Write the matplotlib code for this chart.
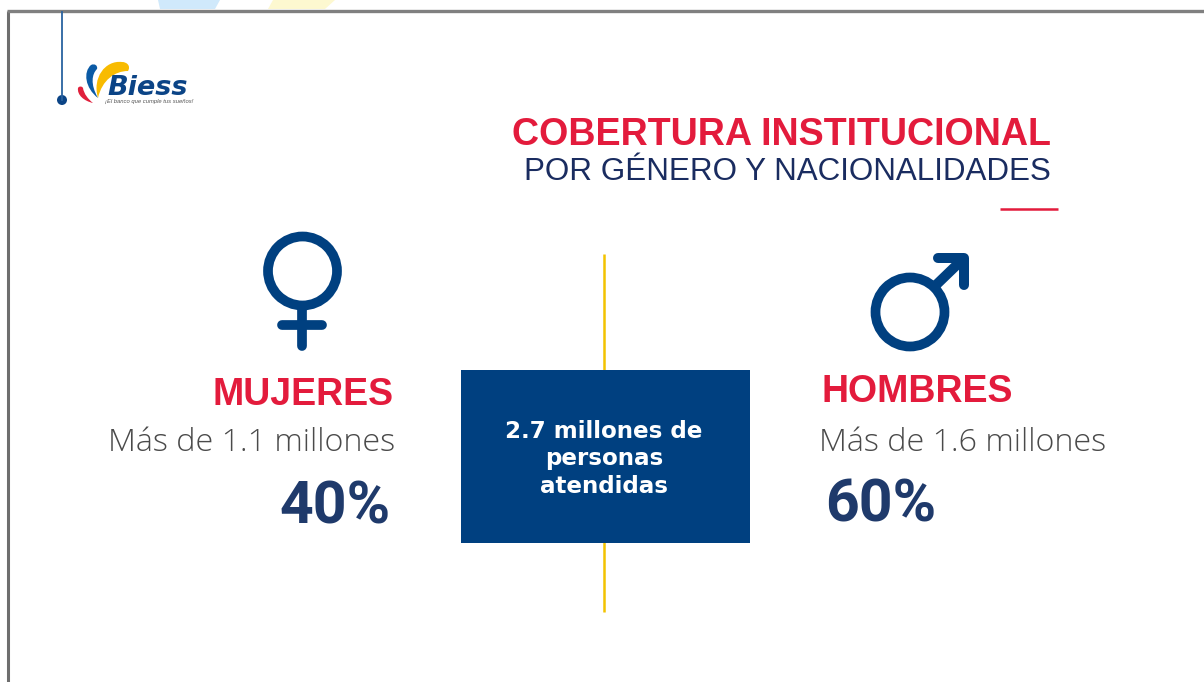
"""
    Cobertura institucional por genero - infographic slide
"""

import matplotlib

matplotlib.use("Agg")
import matplotlib.pyplot as plt
from matplotlib.patches import Circle, Rectangle, PathPatch
from matplotlib.path import Path

title_main = "COBERTURA INSTITUCIONAL"
title_sub = "POR GÉNERO Y NACIONALIDADES"
group_names = ["MUJERES", "HOMBRES"]
group_totals = ["Más de 1.1 millones", "Más de 1.6 millones"]
group_shares = ["40%", "60%"]
center_lines = ["2.7 millones de", "personas", "atendidas"]

RED = "#e31b3c"
NAVY = "#1f3a6b"
TITLE_NAVY = "#1a2c60"
BLUE = "#004080"
GOLD = "#f3c300"
GREY = "#4a4a4a"

swoosh_codes = [1, 4, 4, 4, 4, 4, 4, 4, 4, 4]

fig = plt.figure(figsize=(12.04, 6.82), dpi=100)
ax = fig.add_axes([0, 0, 1, 1])
ax.set_xlim(0, 1204)
ax.set_ylim(682, 0)
ax.axis("off")

# screenshot frame and pale shapes above it
ax.add_patch(plt.Polygon([[158, 0], [220, 0], [215, 9], [160, 9]], fc="#d0e9fb", ec="none"))
ax.add_patch(plt.Polygon([[273, 0], [335, 0], [325, 9], [268, 9]], fc="#fdf8d0", ec="none"))
ax.plot([8, 8], [11, 682], color="#6e6e6e", lw=2.2, solid_capstyle="butt")
ax.plot([7, 1204], [10.5, 10.5], color="#808080", lw=2.4, solid_capstyle="butt")

# logo line and dot
ax.plot([62, 62], [12, 100], color="#2a63a0", lw=1.3)
ax.add_patch(Circle((62, 100), 5, fc="#0b4486", ec="none"))

# logo swooshes
ax.add_patch(PathPatch(Path(
    [(98, 98), (92, 78), (105, 60), (122, 62), (127, 62), (131, 66), (128, 71), (115, 71), (102, 80), (98, 98)],
    swoosh_codes), fc="#f8bb00", ec="none"))
ax.add_patch(PathPatch(Path(
    [(98, 98), (85, 88), (83, 72), (91, 65), (95, 63), (98, 66), (97, 69), (92, 74), (90, 84), (98, 98)],
    swoosh_codes), fc="#0a5aa5", ec="none"))
ax.add_patch(PathPatch(Path(
    [(93, 103), (84, 101), (77, 95), (78, 88), (79, 86), (82, 86), (83, 88), (84, 94), (88, 99), (93, 103)],
    swoosh_codes), fc="#e0203c", ec="none"))
ax.text(107, 95, "Biess", color="#0b4486", fontsize=19.5, fontweight="bold", style="italic",
        family="DejaVu Sans", ha="left", va="baseline")
ax.text(105, 103, "¡El banco que cumple tus sueños!", color="#555555", fontsize=4.2, style="italic",
        family="Liberation Sans", ha="left", va="baseline")

# titles
ax.text(1051, 145, title_main, color=RED, fontsize=27.1, fontweight="bold",
        family="Liberation Sans", ha="right", va="baseline")
ax.text(1051, 180, title_sub, color=TITLE_NAVY, fontsize=22.6,
        family="Liberation Sans", ha="right", va="baseline")
ax.plot([1000, 1058], [209, 209], color=RED, lw=1.8, solid_capstyle="butt")

# centre line and box
ax.plot([604, 604], [254, 612], color=GOLD, lw=1.8, solid_capstyle="butt", zorder=1)
ax.add_patch(Rectangle((461, 370), 289, 173, fc=BLUE, ec="none", zorder=2))
for line, y in zip(center_lines, [438, 465, 493]):
    ax.text(604, y, line, color="white", fontsize=16.6, fontweight="bold",
            family="DejaVu Sans", ha="center", va="baseline", zorder=3)

# female symbol
ax.add_patch(Circle((302.5, 271), 34.5, fc="none", ec=BLUE, lw=7))
ax.plot([302, 302], [308, 346], color=BLUE, lw=7, solid_capstyle="round")
ax.plot([282, 322], [325, 325], color=BLUE, lw=7, solid_capstyle="round")

# male symbol
ax.add_patch(Circle((910, 312), 34.5, fc="none", ec=BLUE, lw=7))
ax.plot([936, 964], [285, 258], color=BLUE, lw=7.2, solid_capstyle="butt")
ax.plot([938, 964, 964], [258, 258, 285], color=BLUE, lw=7.2,
        solid_capstyle="round", solid_joinstyle="round")

# left and right blocks
ax.text(394, 405, group_names[0], color=RED, fontsize=27, fontweight="bold",
        family="Liberation Sans", ha="right", va="baseline")
ax.text(395, 451, group_totals[0], color=GREY, fontsize=23.2, fontweight="light",
        family="Open Sans", ha="right", va="baseline")
ax.text(391, 523, group_shares[0], color=NAVY, fontsize=42.5, fontweight="bold",
        family="Roboto", ha="right", va="baseline")

ax.text(821, 402, group_names[1], color=RED, fontsize=27, fontweight="bold",
        family="Liberation Sans", ha="left", va="baseline")
ax.text(819, 451, group_totals[1], color=GREY, fontsize=23.2, fontweight="light",
        family="Open Sans", ha="left", va="baseline")
ax.text(825, 522, group_shares[1], color=NAVY, fontsize=42.5, fontweight="bold",
        family="Roboto", ha="left", va="baseline")

plt.savefig("out.png", dpi=100)
